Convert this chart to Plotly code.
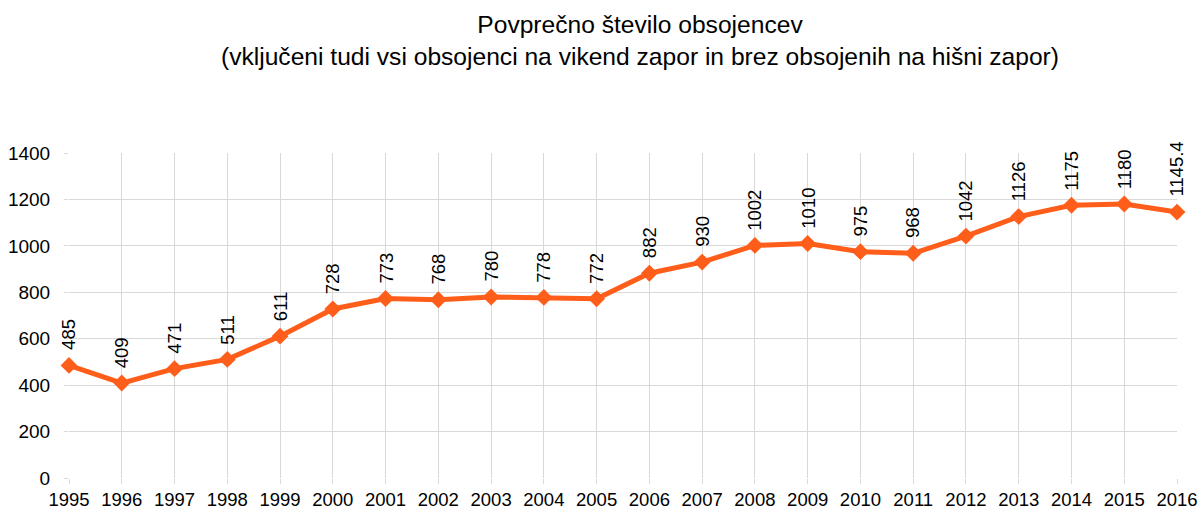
"""Average number of convicts per year, 1995-2016."""

import plotly.graph_objects as go

YEARS = list(range(1995, 2017))
CONVICTS = [485, 409, 471, 511, 611, 728, 773, 768, 780, 778, 772,
            882, 930, 1002, 1010, 975, 968, 1042, 1126, 1175, 1180, 1145.4]
LABELS = ["485", "409", "471", "511", "611", "728", "773", "768", "780",
          "778", "772", "882", "930", "1002", "1010", "975", "968", "1042",
          "1126", "1175", "1180", "1145.4"]
Y_TICKS = [0, 200, 400, 600, 800, 1000, 1200, 1400]

TITLE = ("Povprečno število obsojencev<br>"
         "(vključeni tudi vsi obsojenci na vikend zapor in brez obsojenih "
         "na hišni zapor)")

ORANGE = "#ff5e1a"
GRID = "#d9d9d9"
FONT = "Liberation Sans, Arial, sans-serif"

WIDTH = 1201
HEIGHT = 510

line = go.Scatter(
    x=YEARS,
    y=CONVICTS,
    mode="lines+markers",
    line={"color": ORANGE, "width": 5},
    marker={"symbol": "diamond", "size": 13, "color": ORANGE},
    cliponaxis=False,
    hoverinfo="x+y"
)

annotations = [
    {
        "x": x, "y": y, "text": t,
        "xref": "x", "yref": "y",
        "showarrow": False,
        "textangle": -90,
        "yanchor": "bottom",
        "xanchor": "center",
        "yshift": 13,
        "font": {"family": FONT, "size": 18.5, "color": "#000000"}
    }
    for x, y, t in zip(YEARS, CONVICTS, LABELS)
]

fig = go.Figure(
    data=[line],
    layout={
        "width": WIDTH,
        "height": HEIGHT,
        "margin": {"l": 69, "r": 24, "t": 153, "b": 32},
        "showlegend": False,
        "paper_bgcolor": "white",
        "plot_bgcolor": "white",
        "font": {"family": FONT, "size": 19, "color": "#000000"},
        "title": {
            "text": TITLE,
            "x": 640 / WIDTH,
            "xanchor": "center",
            "xref": "container",
            "y": 1 - 33 / HEIGHT,
            "yref": "container",
            "yanchor": "middle",
            "font": {"family": FONT, "size": 24.6, "color": "#000000"}
        },
        "xaxis": {
            "range": [1995, 2016],
            "tickmode": "array",
            "tickvals": YEARS,
            "ticktext": [str(y) for y in YEARS],
            "tickfont": {"size": 18.5},
            "showgrid": True,
            "gridcolor": GRID,
            "gridwidth": 1,
            "ticks": "outside",
            "ticklen": 5,
            "tickcolor": GRID,
            "ticklabelstandoff": 0,
            "showline": False,
            "zeroline": False,
            "automargin": False,
            "fixedrange": True
        },
        "yaxis": {
            "range": [0, 1400],
            "tickmode": "array",
            "tickvals": Y_TICKS,
            "showgrid": True,
            "gridcolor": GRID,
            "gridwidth": 1,
            "ticks": "outside",
            "ticklen": 4,
            "tickcolor": GRID,
            "ticklabelstandoff": 10,
            "showline": False,
            "zeroline": False,
            "automargin": False,
            "fixedrange": True
        },
        "annotations": annotations
    }
)

# drop the default body margin so the figure fills the window exactly
fig.write_html("out.html",
               config={"displayModeBar": False},
               post_script="document.body.style.margin = '0';")
